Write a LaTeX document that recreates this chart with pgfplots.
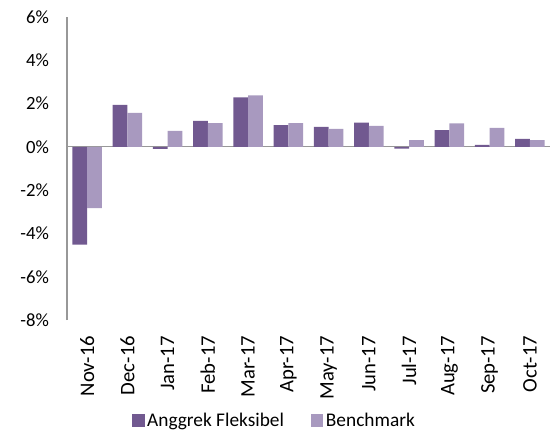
\documentclass[border=0pt]{standalone}
\usepackage{pgfplots}
\pgfplotsset{compat=1.18}
\usepackage{fontspec}
\setmainfont{Carlito}
\definecolor{colA}{HTML}{715990}
\definecolor{colB}{HTML}{A899BF}
\definecolor{axisgray}{HTML}{989898}
\pgfplotstableread{
idx A B
0 -4.52 -2.83
1 1.94 1.57
2 -0.09 0.74
3 1.20 1.10
4 2.29 2.38
5 1.00 1.10
6 0.92 0.83
7 1.12 0.97
8 -0.08 0.31
9 0.77 1.09
10 0.09 0.88
11 0.37 0.31
}\datatable
\begin{document}
\begin{tikzpicture}
\begin{axis}[
  scale only axis,
  width=362.25pt, height=227.25pt,
  xmin=-0.5, xmax=11.5,
  ymin=-8, ymax=6,
  ybar=0pt,
  bar width=11pt,
  axis y line*=left,
  axis x line*=bottom,
  x axis line style={draw=none},
  y axis line style={draw=axisgray, line width=0.8pt},
  major tick length=0pt,
  xtick=data,
  xticklabels={Nov-16,Dec-16,Jan-17,Feb-17,Mar-17,Apr-17,May-17,Jun-17,Jul-17,Aug-17,Sep-17,Oct-17},
  xticklabel style={rotate=90, anchor=east, font=\fontsize{15.5}{17}\selectfont, xshift=-8.5pt},
  ytick={-8,-6,-4,-2,0,2,4,6},
  yticklabels={-8\%,-6\%,-4\%,-2\%,0\%,2\%,4\%,6\%},
  yticklabel style={font=\fontsize{14}{16}\selectfont, xshift=-10pt},
  extra y ticks={0},
  extra y tick labels={},
  extra y tick style={grid=major, grid style={draw=axisgray, line width=0.8pt}},
  legend style={at={(0.43,-0.332)}, anchor=center, draw=none, legend columns=2,
    font=\fontsize{14.5}{16}\selectfont,
    /tikz/every even column/.append style={column sep=18pt}},
  legend image code/.code={\fill[#1] (2.5pt,-4.7pt) rectangle (12pt,4.7pt);},
]
\addplot[fill=colA, draw=none] table[x=idx, y=A]{\datatable};
\addplot[fill=colB, draw=none] table[x=idx, y=B]{\datatable};
\legend{Anggrek Fleksibel, Benchmark}
\end{axis}
\pgfresetboundingbox
\path (-50.25pt,-84pt) rectangle (369.75pt,240pt);
\end{tikzpicture}
\end{document}
